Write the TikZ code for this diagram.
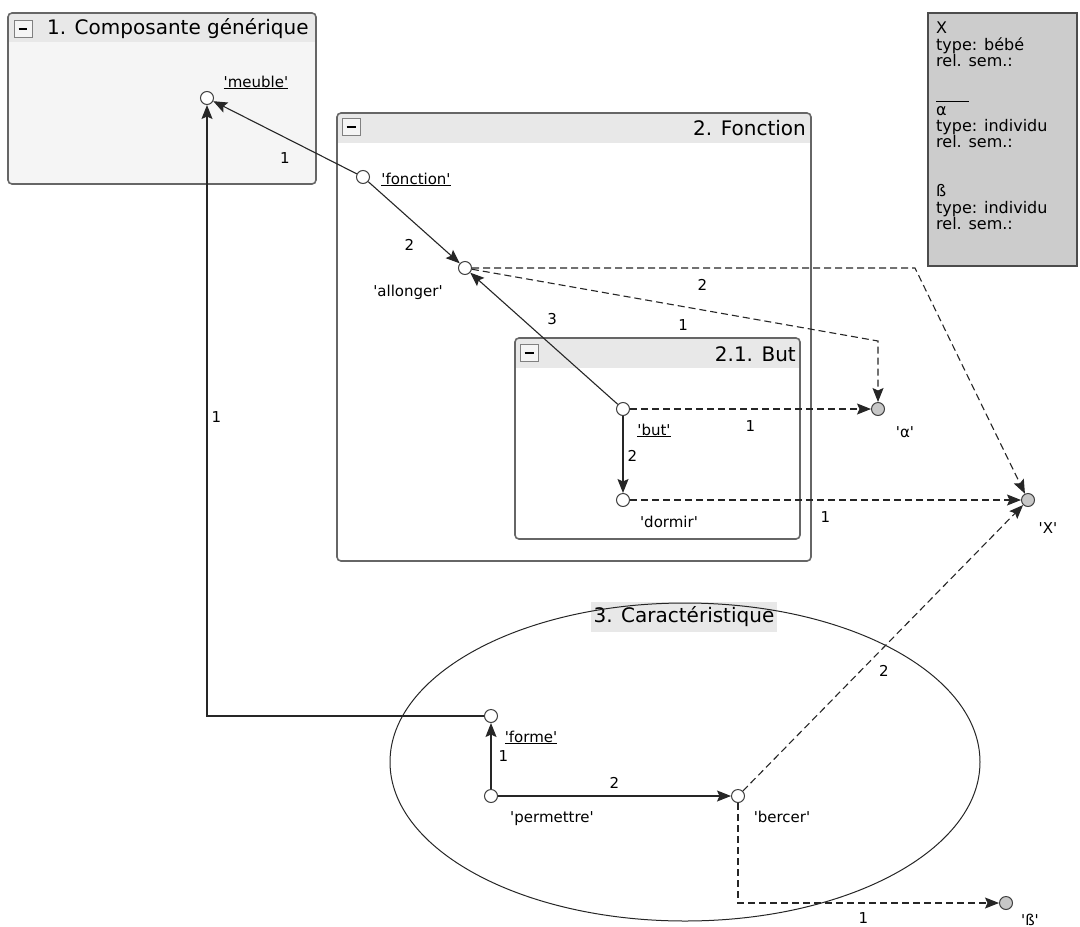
\documentclass[tikz,border=0pt]{standalone}
\usepackage{fontspec}
\newfontfamily\djv{DejaVu Sans}
\usetikzlibrary{arrows.meta}

\newcommand{\q}[1]{'#1'}

\tikzset{
	pt/.style={circle,draw=black!75,fill=white,minimum size=13pt,inner sep=0pt,line width=1pt},
	ptg/.style={pt,fill=black!22},
	txt/.style={inner sep=1pt,font=\djv\fontsize{15}{18}\selectfont},
	hd/.style={inner sep=1pt,font=\djv\fontsize{20}{24}\selectfont},
	arr/.style={-{Stealth[length=14pt,width=11pt,inset=2.5pt]},line width=1.1pt,draw=black!85},
	darr/.style={arr,dash pattern=on 7pt off 4pt},
	frame/.style={draw=black!60,line width=1.6pt,rounded corners=4pt},
	btn/.style={draw=black!50,fill=black!4,minimum width=18pt,minimum height=17pt,inner sep=0pt,line width=0.8pt},
}

\begin{document}
\begin{tikzpicture}[x=1pt,y=-1pt,font=\djv]
		\useasboundingbox (0,0) rectangle (1080,927);
		
		\fill[black!4] (8,13) rectangle (316,184);
		\fill[black!9] (8.8,13.8) rectangle (315.2,42);
		\draw[frame] (8,13) rectangle (316,184);
		\node[btn] (b1) at (23,29) {\rule{9pt}{2.2pt}};
		\node[hd,anchor=west] (t1) at (46,29) {1. Composante générique};
		
		\fill[white] (337,113) rectangle (811,561);
		\fill[black!9] (337.8,113.8) rectangle (810.2,143);
		\draw[frame] (337,113) rectangle (811,561);
		\node[btn] (b2) at (351,127) {\rule{9pt}{2.2pt}};
		\node[hd,anchor=east] (t2) at (807,128) {2. Fonction};
		
		\fill[white] (515,338) rectangle (800,539);
		\fill[black!9] (515.8,338.8) rectangle (799.2,368);
		\draw[frame] (515,338) rectangle (800,539);
		\node[btn] (b21) at (529,353) {\rule{9pt}{2.2pt}};
		\node[hd,anchor=east] (t21) at (797,354) {2.1. But};
		
		\node[hd,fill=black!9,inner xsep=3pt,minimum height=30pt] (t3) at (684,617) {3. Caractéristique};
		\draw[line width=1pt,black!85] (685,762) ellipse [x radius=295,y radius=159];
		
		\draw[line width=1.4pt,draw=black!70,fill=black!20] (928,13) rectangle (1077,266);
		\node[inner sep=1pt,anchor=north west,align=left,font=\djv\fontsize{16}{16.3}\selectfont] (leg) at (935,21) {X\\type: bébé\\rel. sem.:\\[16.3pt]\rule[-3pt]{33pt}{0.8pt}\\α\\type: individu\\rel. sem.:\\[32.6pt]ß\\type: individu\\rel. sem.:};
		
		\node[pt] (meuble) at (207,98) {};
		\node[pt] (fonction) at (363,177) {};
		\node[pt] (allonger) at (465,268) {};
		\node[pt] (but) at (623,409) {};
		\node[pt] (dormir) at (623,500) {};
		\node[ptg] (alpha) at (878,409) {};
		\node[ptg] (X) at (1028,500) {};
		\node[pt] (forme) at (491,716) {};
		\node[pt] (permettre) at (491,796) {};
		\node[pt] (bercer) at (738,796) {};
		\node[ptg] (beta) at (1006,903) {};
		
		\node[txt,anchor=base] (meubleL) at (256,87) {\underline{\q{meuble}}};
		\node[txt,anchor=base] (fonctionL) at (416,184) {\underline{\q{fonction}}};
		\node[txt,anchor=base] (allongerL) at (408,296) {\q{allonger}};
		\node[txt,anchor=base] (butL) at (654,435) {\underline{\q{but}}};
		\node[txt,anchor=base] (dormirL) at (669,527) {\q{dormir}};
		\node[txt,anchor=base] (alphaL) at (905,437) {\q{α}};
		\node[txt,anchor=base] (XL) at (1048,533) {\q{X}};
		\node[txt,anchor=base] (formeL) at (531,742) {\underline{\q{forme}}};
		\node[txt,anchor=base] (permettreL) at (552,822) {\q{permettre}};
		\node[txt,anchor=base] (bercerL) at (782,822) {\q{bercer}};
		\node[txt,anchor=base] (betaL) at (1030,925) {\q{ß}};
		
		\coordinate (kX) at (915,268);
		\coordinate (kA) at (878,341);
		
		\draw[arr] (fonction) -- node[txt,pos=0.5,below=14pt] (e1) {1} (meuble);
		
		\draw[arr] (forme) -| node[txt,pos=0.745,right=3pt] (e2) {1} (meuble);
		
		\draw[arr] (fonction) -- node[txt,pos=0.77,left=23pt] (e3) {2} (allonger);
		
		\draw[arr] (but) -- node[txt,pos=0.65,right=24pt] (e4) {3} (allonger);
		
		\draw[arr] (but) -- node[txt,pos=0.52,right=3pt] (e5) {2} (dormir);
		
		\draw[darr] (allonger) -- node[txt,pos=0.52,below=10pt] (e6) {2} (kX) -- (X);
		
		\draw[darr] (allonger) -- node[txt,pos=0.52,below=11pt] (e7) {1} (kA) -- (alpha);
		
		\draw[darr] (but) -- node[txt,pos=0.5,below=10pt] (e8) {1} (alpha);
		
		\draw[darr] (dormir) -- node[txt,pos=0.5,below=10pt] (e9) {1} (X);
		
		\draw[darr] (bercer) -- node[txt,pos=0.42,right=17pt] (e10) {2} (X);
		
		\draw[darr] (bercer) |- node[txt,pos=0.74,below=8pt] (e11) {1} (beta);
		
		\draw[arr] (permettre) -- node[txt,pos=0.5,right=6pt] (e12) {1} (forme);
		
		\draw[arr] (permettre) -- node[txt,pos=0.5,above=6pt] (e13) {2} (bercer);
		
\end{tikzpicture}
\end{document}
